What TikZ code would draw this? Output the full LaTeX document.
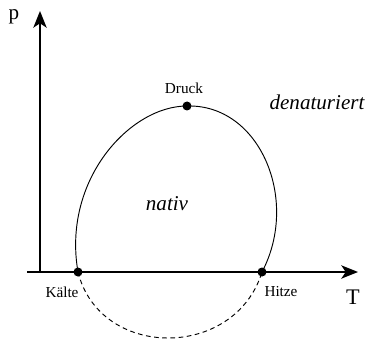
\documentclass[tikz,border=0pt]{standalone}
\usepackage{fontspec}
\setmainfont{Liberation Serif}
\usepackage{tikz}
\usetikzlibrary{arrows.meta}

\begin{document}
\begin{tikzpicture}[x=0.03cm,y=-0.03cm,
  dot/.style={circle,fill,inner sep=0pt,minimum size=2.7mm},
  achse/.style={line width=0.5mm,-{Stealth[length=5mm,width=4mm,inset=1.3mm]}},
  klein/.style={font=\fontsize{13}{15}\selectfont},
  gross/.style={font=\fontsize{18}{20}\selectfont\itshape}]
\useasboundingbox (0,0) rectangle (369,341);
% Achsen
\coordinate (ursprung) at (40,272);
\coordinate (links) at (27,272);
\coordinate (pspitze) at (40,11);
\coordinate (tspitze) at (358,272);
\draw[achse] (links) -- (tspitze);
\draw[achse] (ursprung) -- (pspitze);
\node[font=\fontsize{18}{20}\selectfont] (p) at (14,17) {p};
\node[font=\fontsize{19}{21}\selectfont] (T) at (353,297) {T};
% Punkte
\node[dot] (kaelte) at (78,272) {};
\node[dot] (druck) at (187,106) {};
\node[dot] (hitze) at (262,272) {};
% Phasengrenze
\draw[line width=0.8pt] (kaelte.center) .. controls (62,180) and (130,106) .. (druck.center)
  .. controls (260,104) and (300,200) .. (hitze.center);
\draw[line width=0.8pt,dashed,dash pattern=on 4pt off 3pt] (kaelte.center) .. controls (100,360) and (235,360) .. (hitze.center);
% Beschriftung
\node[klein] (druckl) at (184,88) {Druck};
\node[klein] (kaeltel) at (62,292) {Kälte};
\node[klein] (hitzel) at (281,292) {Hitze};
\node[gross] (nativ) at (167,204) {nativ};
\node[gross] (denat) at (317,102) {denaturiert};
\end{tikzpicture}
\end{document}
